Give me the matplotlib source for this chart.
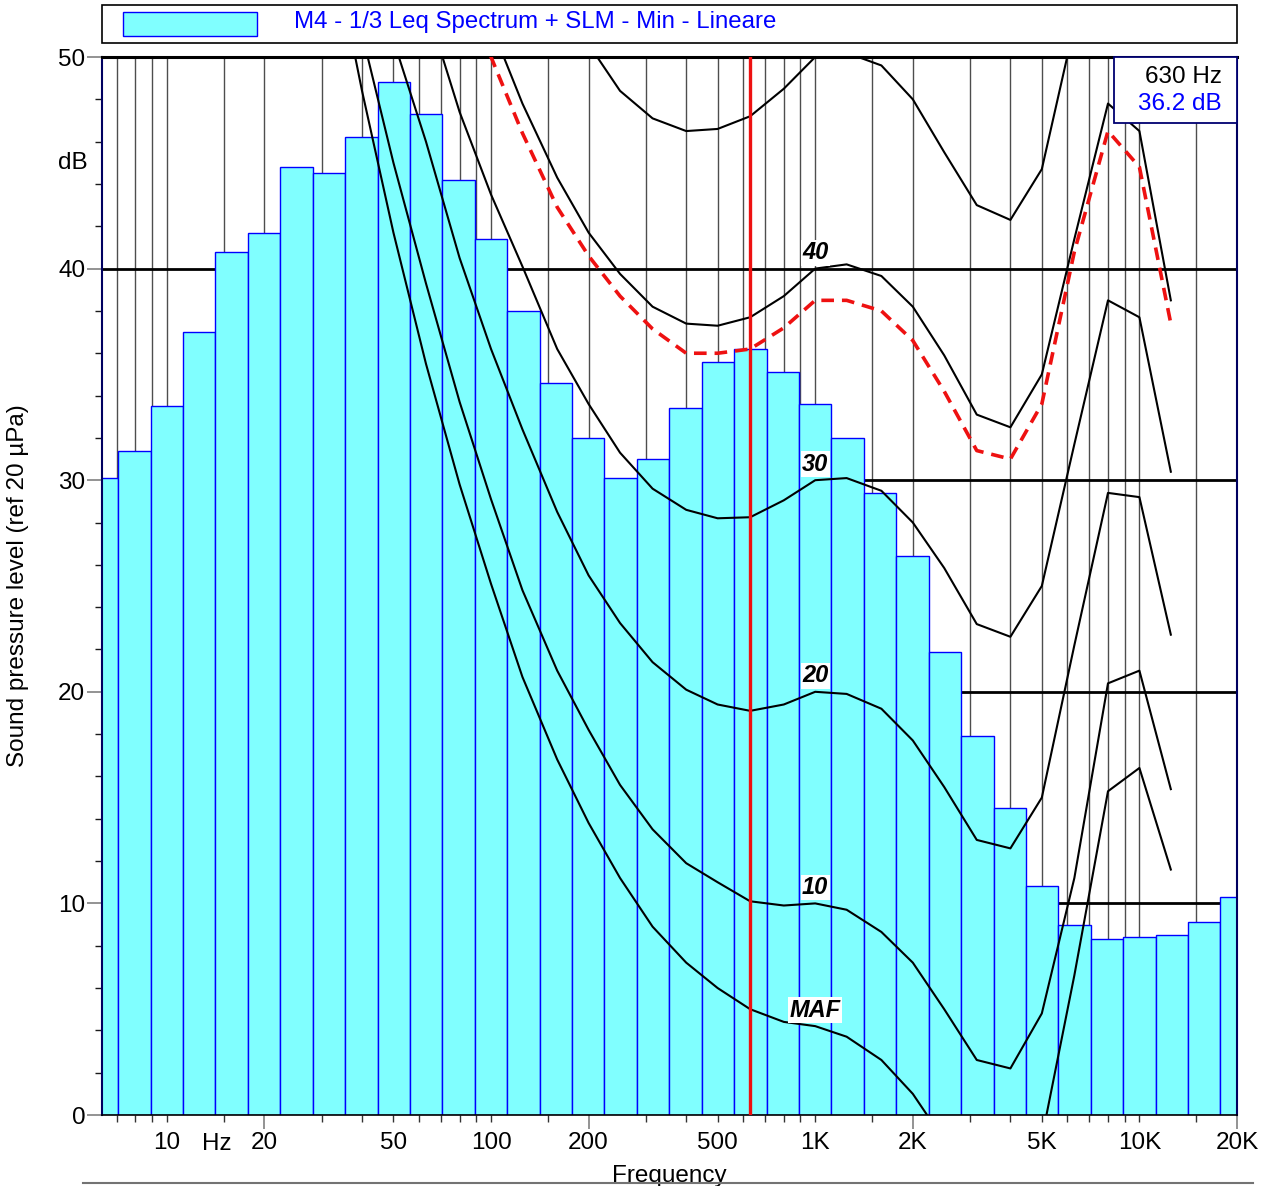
import numpy as np
import matplotlib.pyplot as plt
from matplotlib.patches import Rectangle
from matplotlib.lines import Line2D
from matplotlib.ticker import FixedLocator, FixedFormatter

plt.rcParams['font.family'] = ['Liberation Sans', 'DejaVu Sans']

# 1/3 octave Leq spectrum (dB)
bands = [6.3, 8, 10, 12.5, 16, 20, 25, 31.5, 40, 50, 63, 80, 100, 125, 160, 200,
         250, 315, 400, 500, 630, 800, 1000, 1250, 1600, 2000, 2500, 3150, 4000,
         5000, 6300, 8000, 10000, 12500, 16000, 20000]
leq = [30.1, 31.4, 33.5, 37.0, 40.8, 41.7, 44.8, 44.5, 46.2, 48.8, 47.3, 44.2,
       41.4, 38.0, 34.6, 32.0, 30.1, 31.0, 33.4, 35.6, 36.2, 35.1, 33.6, 32.0,
       29.4, 26.4, 21.9, 17.9, 14.5, 10.8, 9.0, 8.3, 8.4, 8.5, 9.1, 10.3]

# equal loudness contours
iso_freq = [20, 25, 31.5, 40, 50, 63, 80, 100, 125, 160, 200, 250, 315, 400, 500,
            630, 800, 1000, 1250, 1600, 2000, 2500, 3150, 4000, 5000, 6300, 8000,
            10000, 12500]
maf = [74.3, 65.0, 56.3, 48.4, 41.7, 35.5, 29.8, 25.1, 20.7, 16.8, 13.8, 11.2, 8.9,
       7.2, 6.0, 5.0, 4.4, 4.2, 3.7, 2.6, 1.0, -1.2, -3.6, -3.9, -1.1, 6.6, 15.3,
       16.4, 11.6]
phon10 = [78.0, 69.0, 60.0, 51.1, 45.0, 39.3, 33.7, 29.1, 24.8, 21.0, 18.2, 15.6,
          13.5, 11.9, 11.0, 10.1, 9.9, 10.0, 9.7, 8.65, 7.2, 5.0, 2.6, 2.2, 4.8,
          11.2, 20.4, 21.0, 15.4]
phon20 = [82, 73, 64, 56, 50.8, 46.0, 40.5, 36.2, 32.4, 28.5, 25.5, 23.25, 21.4,
          20.1, 19.4, 19.1, 19.4, 20.0, 19.9, 19.2, 17.7, 15.5, 13.0, 12.6, 15.0,
          22.2, 29.4, 29.2, 22.7]
phon30 = [86, 78, 70, 63, 57.5, 52.5, 47.4, 43.5, 40.1, 36.2, 33.6, 31.3, 29.6,
          28.6, 28.2, 28.25, 29.05, 30.0, 30.1, 29.5, 28.0, 25.85, 23.2, 22.6, 25.0,
          31.7, 38.5, 37.7, 30.4]
phon40 = [90, 83, 76, 69, 63, 58, 54.5, 51.5, 47.8, 44.3, 41.7, 39.75, 38.2, 37.4,
          37.3, 37.7, 38.7, 40.0, 40.2, 39.65, 38.2, 35.9, 33.1, 32.5, 35.0, 41.4,
          47.8, 46.5, 38.5]
phon50 = [94, 88, 82, 76, 70.5, 65, 60.5, 57, 54.2, 52.2, 50.6, 48.4, 47.1, 46.5,
          46.6, 47.2, 48.5, 50.0, 50.2, 49.6, 48.0, 45.5, 43.0, 42.3, 44.7, 51.5,
          57.5, 56.5, 51.0]
# contour through the cursor point
cursor_contour = [89, 82, 75, 68, 62, 57, 53.3, 50.0, 46.4, 42.9, 40.6, 38.7, 37.15,
                  36.0, 36.0, 36.2, 37.2, 38.5, 38.5, 38.0, 36.6, 34.2, 31.4, 31.0,
                  33.6, 40.8, 46.5, 44.8, 37.4]

contours = [maf, phon10, phon20, phon30, phon40, phon50]
contour_labels = ['MAF', '10', '20', '30', '40', None]

cursor_freq = 630
cursor_level = leq[bands.index(cursor_freq)]

# tick positions / labels
grid_freq = [7, 8, 9, 10, 15, 20, 30, 40, 50, 60, 70, 80, 90, 100, 150, 200, 300,
             400, 500, 600, 700, 800, 900, 1000, 1500, 2000, 3000, 4000, 5000, 6000,
             7000, 8000, 9000, 10000, 15000, 20000]
long_ticks = [20, 200, 2000, 20000]
tick_text = {10: '10', 20: '20', 50: '50', 100: '100', 200: '200', 500: '500',
             1000: '1K', 2000: '2K', 5000: '5K', 10000: '10K', 20000: '20K'}

FS = 17.5
W, H = 1268, 1186
fig = plt.figure(figsize=(W / 100, H / 100), dpi=100)
ax = fig.add_axes([102 / W, 1 - 1115 / H, (1237 - 102) / W, (1115 - 57) / H])

# bars
n = np.round(10 * np.log10(bands))
lo = 10 ** ((n - 0.5) / 10)
hi = 10 ** ((n + 0.5) / 10)
ax.bar(lo, np.array(leq), width=hi - lo, align='edge', color='#80FFFF',
       edgecolor='#0000FF', lw=1, zorder=2)

# contours
for vals, lab in zip(contours, contour_labels):
    ax.plot(iso_freq, vals, color='black', lw=1.5, zorder=4)
    if lab:
        v1k = vals[iso_freq.index(1000)]
        ax.text(1000, v1k + 0.75, lab, ha='center', va='center', fontsize=17,
                fontweight='bold', fontstyle='italic', zorder=6,
                bbox=dict(facecolor='white', edgecolor='none', pad=1.0))
ax.plot(iso_freq, cursor_contour, color='#EE1111', lw=2.6, dashes=(3.5, 2.2), zorder=4)
ax.axvline(cursor_freq, color='#EE1111', lw=2.4, zorder=5)

ax.set_xscale('log')
ax.set_xlim(10 ** 0.8, 20000)
ax.set_ylim(0, 50)

minor = [f for f in grid_freq if f not in long_ticks]
ax.xaxis.set_major_locator(FixedLocator(long_ticks))
ax.xaxis.set_major_formatter(FixedFormatter([tick_text[f] for f in long_ticks]))
ax.xaxis.set_minor_locator(FixedLocator(minor))
ax.xaxis.set_minor_formatter(FixedFormatter([tick_text.get(f, '') for f in minor]))
ax.tick_params(axis='x', which='major', length=10, width=1.2, color='0.5',
               labelsize=FS, pad=2.5)
ax.tick_params(axis='x', which='minor', length=5, width=1, color='0.2',
               labelsize=FS, pad=7.5)
ax.set_yticks(range(0, 51, 10))
ax.set_yticks(range(0, 51, 2), minor=True)
ax.tick_params(axis='y', which='major', length=11, width=1.2, color='0.5',
               labelsize=FS, pad=1)
ax.tick_params(axis='y', which='minor', length=5, width=1, color='0.1')

ax.set_axisbelow(True)
ax.xaxis.grid(True, which='both', color='0.3', lw=1)
ax.yaxis.grid(True, which='major', color='black', lw=2)

for s in ['left', 'right']:
    ax.spines[s].set_color('#000060')
    ax.spines[s].set_linewidth(1.5)
ax.spines['top'].set_linewidth(2.2)
ax.spines['bottom'].set_linewidth(1.2)

ax.text(-0.0123, 45, 'dB', transform=ax.get_yaxis_transform(), ha='right',
        va='center', fontsize=FS)
ax.text(14.3, -0.027, 'Hz', transform=ax.get_xaxis_transform(), ha='center',
        va='center', fontsize=FS)

ax.set_ylabel('Sound pressure level (ref 20 µPa)', fontsize=17.5)
ax.yaxis.set_label_coords(-0.064, 0.5)
ax.set_xlabel('Frequency', fontsize=17.5)
ax.xaxis.set_label_coords(0.5, -0.047)

# cursor box
ax.add_patch(Rectangle((0.8916, 0.9376), 1 - 0.8916, 1 - 0.9376, transform=ax.transAxes,
                       facecolor='white', edgecolor='#000070', lw=1.3, zorder=7,
                       clip_on=False))
ax.text(0.9868, 0.981, f'{cursor_freq} Hz', transform=ax.transAxes, ha='right',
        va='center', fontsize=FS, zorder=8)
ax.text(0.9868, 0.9555, f'{cursor_level:.1f} dB', transform=ax.transAxes, ha='right',
        va='center', fontsize=FS, color='#0000FF', zorder=8)

# legend strip
fig.add_artist(Rectangle((102 / W, 1 - 43 / H), (1237 - 102) / W, 38 / H,
                         transform=fig.transFigure, fill=False, edgecolor='black', lw=1.2))
fig.add_artist(Rectangle((123 / W, 1 - 36 / H), 134 / W, 24 / H, transform=fig.transFigure,
                         facecolor='#80FFFF', edgecolor='#0000FF', lw=1))
fig.text(294 / W, 1 - 22 / H, 'M4 - 1/3 Leq Spectrum + SLM - Min - Lineare',
         color='#0000FF', fontsize=17.3, va='center')
fig.add_artist(Line2D([83 / W, 1253 / W], [1 - 1183 / H] * 2, color='0.45', lw=1.5))

fig.savefig('out.png', dpi=100)
